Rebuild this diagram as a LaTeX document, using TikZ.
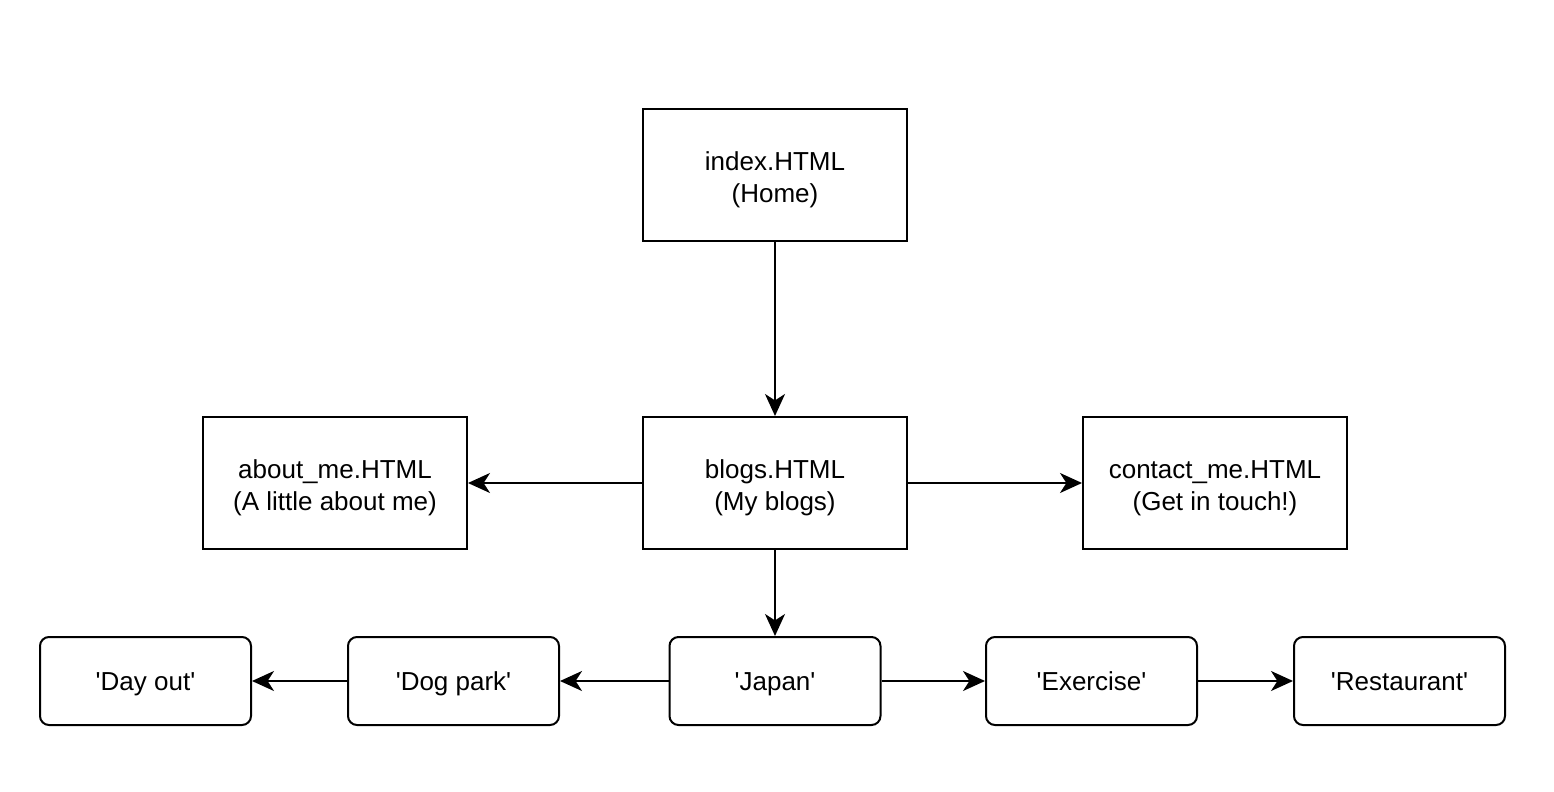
\documentclass[tikz,border=0pt]{standalone}
\usepackage{fontspec}
\setmainfont{Liberation Sans}
\usetikzlibrary{arrows.meta}
\newcommand{\sq}{\textquotesingle}
\begin{document}
\begin{tikzpicture}[x=0.5pt,y=-0.5pt,
  box/.style={draw=black, line width=1pt, fill=white, minimum width=132pt, minimum height=66pt, align=center, inner sep=0pt, text height=30.1pt, font=\fontsize{13}{16}\selectfont},
  rbox/.style={draw=black, line width=1pt, fill=white, rounded corners=4.5pt, minimum width=105.5pt, minimum height=44pt, align=center, inner sep=0pt, text height=12pt, text depth=2.7pt, font=\fontsize{13}{16}\selectfont},
  link/.style={line width=1pt, -{Stealth[length=11pt, width=10pt, inset=3.2pt]}}]
\useasboundingbox (0,0) rectangle (1554,792);
\node[box] (index) at (775,175) {index.HTML\\(Home)};
\node[box] (blogs) at (775,483) {blogs.HTML\\(My blogs)};
\node[box] (about) at (335,483) {about\_me.HTML\\(A little about me)};
\node[box] (contact) at (1215,483) {contact\_me.HTML\\(Get in touch!)};
\node[rbox] (dayout) at (145.5,681) {\sq Day out\sq};
\node[rbox] (dogpark) at (453.5,681) {\sq Dog park\sq};
\node[rbox] (japan) at (775,681) {\sq Japan\sq};
\node[rbox] (exercise) at (1091.5,681) {\sq Exercise\sq};
\node[rbox] (restaurant) at (1399.5,681) {\sq Restaurant\sq};
\draw[link] (index) -- (blogs);
\draw[link] (blogs) -- (about);
\draw[link] (blogs) -- (contact);
\draw[link] (blogs) -- (japan);
\draw[link] (japan) -- (dogpark);
\draw[link] (dogpark) -- (dayout);
\draw[link] (japan) -- (exercise);
\draw[link] (exercise) -- (restaurant);
\end{tikzpicture}
\end{document}
